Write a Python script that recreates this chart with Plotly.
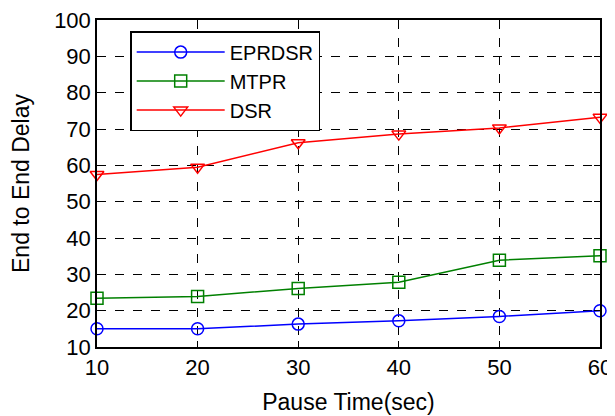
import plotly.graph_objects as go

pause_time = [10, 20, 30, 40, 50, 60]
eprdsr = [15.0, 15.0, 16.3, 17.2, 18.4, 20.0]
mtpr = [23.4, 23.9, 26.1, 27.8, 33.9, 35.1]
dsr = [57.5, 59.5, 66.2, 68.6, 70.3, 73.2]

x_ticks = [10, 20, 30, 40, 50, 60]
y_ticks = [10, 20, 30, 40, 50, 60, 70, 80, 90, 100]

FONT = "Liberation Sans, Arial"

fig = go.Figure()
series = [
    ("EPRDSR", eprdsr, "#0000ff", "circle-open"),
    ("MTPR", mtpr, "#008000", "square-open"),
    ("DSR", dsr, "#ff0000", "triangle-down-open"),
]
for name, vals, col, sym in series:
    fig.add_trace(go.Scatter(
        x=pause_time, y=vals, name=name, mode="lines+markers",
        line=dict(color=col, width=1.5),
        marker=dict(symbol=sym, size=12, color=col, line=dict(width=1.5, color=col)),
        cliponaxis=False,
    ))

axis_common = dict(
    showline=True, linecolor="black", linewidth=1.5, mirror="ticks",
    ticks="inside", ticklen=6, tickcolor="black",
    showgrid=True, gridcolor="black", griddash="dash", gridwidth=1,
    zeroline=False, automargin=False, ticklabeloverflow="allow",
    tickfont=dict(family=FONT, size=22, color="black"),
)

fig.update_xaxes(range=[10, 60], tickvals=x_ticks,
                 title=dict(text="Pause Time(sec)", font=dict(family=FONT, size=23, color="black"), standoff=15),
                 **axis_common)
fig.update_yaxes(range=[10, 100], tickvals=y_ticks,
                 title=dict(text="End to End Delay", font=dict(family=FONT, size=23, color="black"), standoff=29),
                 **axis_common)

fig.update_layout(
    width=607, height=408,
    margin=dict(l=89, r=15, t=12, b=69),
    paper_bgcolor="white", plot_bgcolor="white",
    showlegend=True,
    legend=dict(
        x=0.066, y=0.966, xanchor="left", yanchor="top",
        bgcolor="white", bordercolor="black", borderwidth=1.5,
        font=dict(family=FONT, size=20, color="black"),
        itemwidth=88, tracegroupgap=0,
    ),
)

fig.write_html("out.html")
